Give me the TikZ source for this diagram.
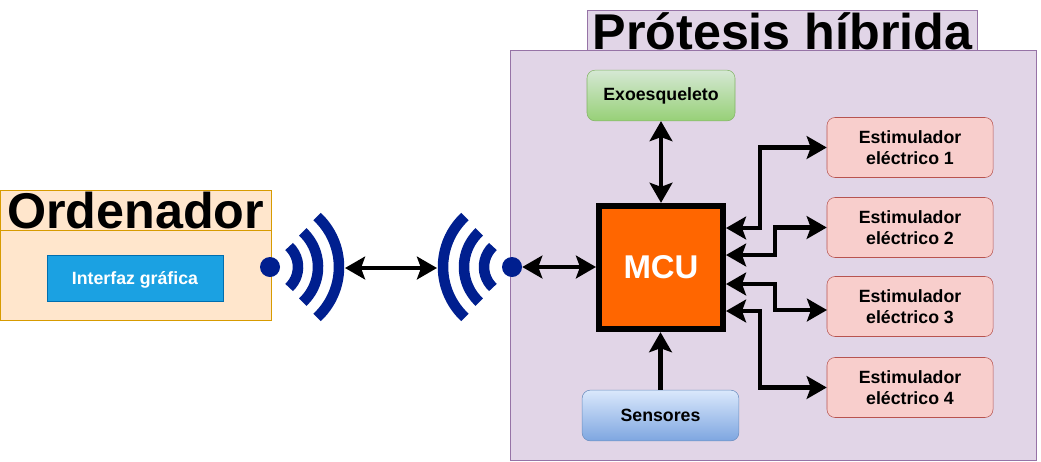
\documentclass[tikz,border=0pt]{standalone}
\usepackage{fontspec}
\setmainfont{Liberation Sans}
\usetikzlibrary{arrows.meta}
\definecolor{panelfill}{HTML}{E1D5E7}
\definecolor{panelline}{HTML}{9673A6}
\definecolor{pcfill}{HTML}{FFE6CC}
\definecolor{pcline}{HTML}{D79B00}
\definecolor{guifill}{HTML}{1BA1E2}
\definecolor{guiline}{HTML}{006EAF}
\definecolor{stimfill}{HTML}{F8CECC}
\definecolor{stimline}{HTML}{B85450}
\definecolor{wavecol}{HTML}{001F8F}
\definecolor{mcufill}{HTML}{FF6600}
\definecolor{exoline}{HTML}{82B366}
\definecolor{exotop}{HTML}{D5E8D4}
\definecolor{exobottom}{HTML}{97D077}
\definecolor{sensline}{HTML}{6C8EBF}
\definecolor{senstop}{HTML}{DAE8FC}
\definecolor{sensbottom}{HTML}{7EA6E0}
\tikzset{
    bigtitle/.style={font=\fontsize{37.7pt}{37.7pt}\selectfont\bfseries, inner sep=0pt, text height=28pt, text depth=0pt},
    partbox/.style={draw, rounded corners=6pt, font=\fontsize{13.3pt}{16pt}\selectfont\bfseries, align=center, inner sep=0pt},
    stimbox/.style={partbox, draw=stimline, fill=stimfill, minimum width=124.5pt, minimum height=45pt},
    radiodot/.style={circle, fill=wavecol, inner sep=0pt, minimum size=15pt},
    wave/.style={draw=wavecol, line width=7.9pt},
    link/.style={line width=3.4pt, {Stealth[length=15pt,width=17pt,inset=3pt]}-{Stealth[length=15pt,width=17pt,inset=3pt]}},
    linkone/.style={line width=3.4pt, -{Stealth[length=15pt,width=17pt,inset=3pt]}}
}
\begin{document}
\begin{tikzpicture}[x=0.75pt,y=-0.75pt]
            \useasboundingbox (0,0) rectangle (1041,461);
            \fill[white] (0,0) rectangle (1041,461);
            \node[draw=panelline, fill=panelfill, minimum width=394.5pt, minimum height=307.5pt] (hybrid) at (773,255) {};
            \node[bigtitle, draw=panelline, fill=panelfill, minimum width=292.5pt, minimum height=30pt] (hybridtitle) at (782.5,30.5) {Prótesis híbrida};
            \node[draw=pcline, fill=pcfill, minimum width=203pt, minimum height=97.5pt] (pc) at (135.5,255) {};
            \node[bigtitle, draw=pcline, fill=pcfill, minimum width=203pt, minimum height=30pt] (pctitle) at (135.5,210) {Ordenador};
            \node[draw=guiline, fill=guifill, text=white, minimum width=132pt, minimum height=34.5pt, inner sep=0pt, text height=12pt, text depth=3pt, font=\fontsize{13.3pt}{16pt}\selectfont\bfseries] (gui) at (135,278) {Interfaz gráfica};
            \node[radiodot] (dotleft) at (270,267) {};
            \node[radiodot] (dotright) at (512,267) {};
            \foreach \r in {28,48,69} {
                \draw[wave] ([shift={(47:\r)}]dotleft.center) arc (47:-47:\r);
                \draw[wave] ([shift={(133:\r)}]dotright.center) arc (133:227:\r);
            }
            \coordinate (waveleft) at (345,268);
            \coordinate (waveright) at (437,268);
            \node[draw, line width=4.5pt, fill=mcufill, text=white, minimum width=93pt, minimum height=92.5pt, inner sep=0pt, font=\fontsize{24.7pt}{28pt}\selectfont\bfseries] (mcu) at (661,267.5) {MCU};
            \node[partbox, draw=exoline, top color=exotop, bottom color=exobottom, minimum width=111pt, minimum height=38pt] (exo) at (661,95.5) {Exoesqueleto};
            \node[partbox, draw=sensline, top color=senstop, bottom color=sensbottom, minimum width=117.5pt, minimum height=38pt] (sensors) at (660.5,415.5) {Sensores};
            \node[stimbox] (stim1) at (910,147.5) {Estimulador\\eléctrico 1};
            \node[stimbox] (stim2) at (910,227.5) {Estimulador\\eléctrico 2};
            \node[stimbox] (stim3) at (910,306.5) {Estimulador\\eléctrico 3};
            \node[stimbox] (stim4) at (910,387.5) {Estimulador\\eléctrico 4};
            \coordinate (mcu1) at (726,228);
            \coordinate (mcu2) at (726,255);
            \coordinate (mcu3) at (726,284);
            \coordinate (mcu4) at (726,311);
            \coordinate (stim3in) at (827,310);
            \draw[link] (waveleft) -- (waveright);
            \draw[link] (dotright.east) -- (mcu.west |- dotright.east);
            \draw[link] (exo.south) -- (mcu.north -| exo.south);
            \draw[linkone] (sensors.north) -- (mcu.south -| sensors.north);
            \draw[link] (mcu1) -- (760,228) |- (stim1.west);
            \draw[link] (mcu2) -- (775,255) |- (stim2.west);
            \draw[link] (mcu3) -- (775,284) |- (stim3in);
            \draw[link] (mcu4) -- (760,311) |- (stim4.west);
        \end{tikzpicture}
\end{document}
